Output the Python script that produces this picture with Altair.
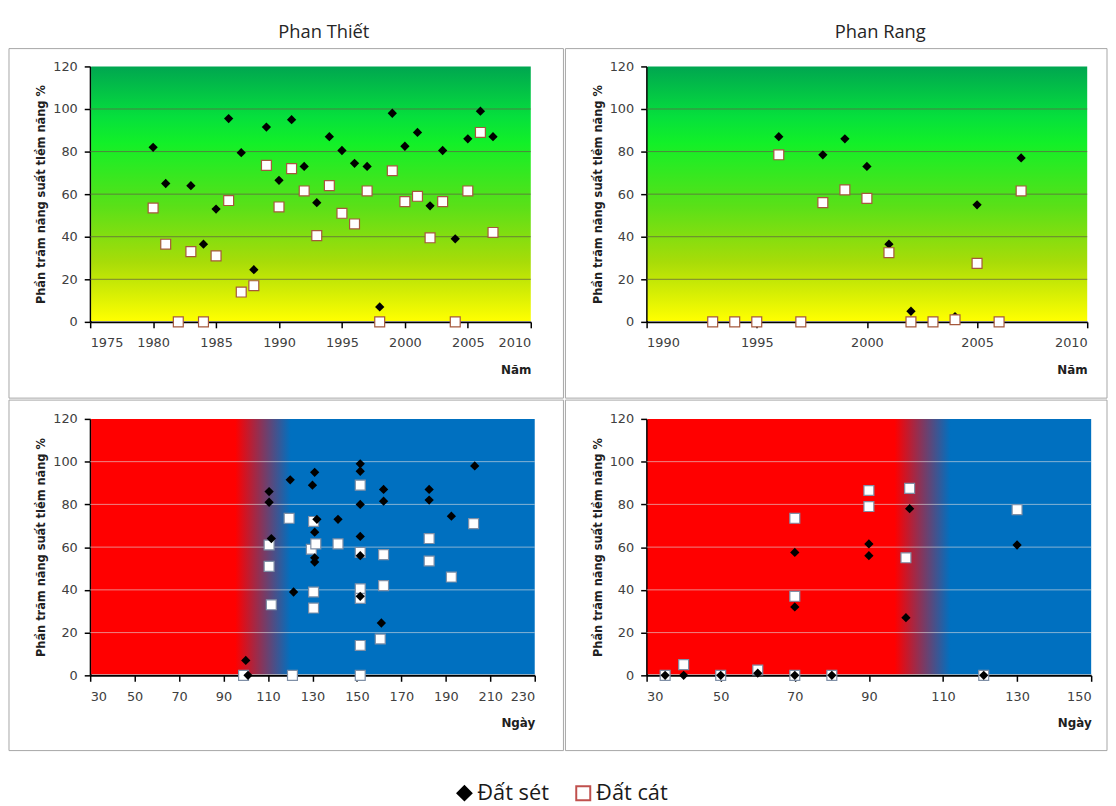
import altair as alt
import pandas as pd

# ---------------- data ----------------
soil_types = ["Đất sét", "Đất cát"]
panel_titles = ["Phan Thiết", "Phan Rang"]
y_title = "Phần trăm năng suất tiềm năng %"
x_titles = ["Năm", "Ngày"]
y_ticks = [0, 20, 40, 60, 80, 100, 120]
grid_values = [20, 40, 60, 80, 100]

# Phan Thiết by year
pt_set_year = [1980, 1981, 1983, 1984, 1985, 1986, 1987, 1988, 1989, 1990, 1991, 1992, 1993, 1994,
               1995, 1996, 1997, 1998, 1999, 2000, 2001, 2002, 2003, 2004, 2005, 2006, 2007]
pt_set_val = [82, 65, 64, 36.5, 53, 95.5, 79.5, 24.5, 91.5, 66.5, 95, 73, 56, 87,
              80.5, 74.5, 73, 7, 98, 82.5, 89, 54.5, 80.5, 39, 86, 99, 87]
pt_cat_year = [1980, 1981, 1982, 1983, 1984, 1985, 1986, 1987, 1988, 1989, 1990, 1991, 1992, 1993,
               1994, 1995, 1996, 1997, 1998, 1999, 2000, 2001, 2002, 2003, 2004, 2005, 2006, 2007]
pt_cat_val = [53.5, 36.5, 0, 33, 0, 31, 57, 14, 17, 73.5, 54, 72, 61.5, 40.5,
              64, 51, 46, 61.5, 0, 71, 56.5, 59, 39.5, 56.5, 0, 61.5, 89, 42]

# Phan Rang by year
pr_set_year = [1996, 1998, 1999, 2000, 2001, 2002, 2004, 2005, 2007]
pr_set_val = [87, 78.5, 86, 73, 36.5, 5, 2.5, 55, 77]
pr_cat_year = [1993, 1994, 1995, 1996, 1997, 1998, 1999, 2000, 2001, 2002, 2003, 2004, 2005, 2006, 2007]
pr_cat_val = [0, 0, 0, 78.5, 0, 56, 62, 58, 32.5, 0, 0, 1, 27.5, 0, 61.5]

# Phan Thiết by days
ptd_set_day = [100, 101, 110.5, 110.5, 111.5, 120, 121.5, 130, 131, 132, 131, 131, 131, 141.5,
               151.5, 151.5, 151.5, 151.5, 151.5, 151.5, 161, 162, 162, 182.5, 182.5, 192.5, 203]
ptd_set_val = [7, 0, 86, 81, 64, 91.5, 39, 89, 95, 73, 67, 55, 53, 73,
               99, 95.5, 80, 65, 56, 37, 24.5, 87, 81.5, 87, 82, 74.5, 98]
ptd_cat_day = [99, 110.5, 110.5, 111.5, 119.5, 121, 130.5, 129.5, 131.5, 130.5, 130.5, 141.5,
               151.5, 151.5, 151.5, 151.5, 151.5, 151.5, 162, 162, 160.5, 182.5, 182.5, 192.5, 202.5]
ptd_cat_val = [0, 61, 51, 33, 73.5, 0, 72, 59, 61.5, 39, 31.5, 61.5,
               89, 57.5, 40.5, 36, 14, 0, 56.5, 42, 17, 64, 53.5, 46, 71]

# Phan Rang by days
prd_set_day = [35, 40, 50, 60, 70, 70, 70, 80, 90, 90, 101, 100, 121, 130]
prd_set_val = [0, 0, 0, 1, 57.5, 32, 0, 0, 61.5, 56, 78, 27, 0, 61]
prd_cat_day = [35, 40, 50, 60, 70, 70, 70, 80, 90, 90, 101, 100, 121, 130]
prd_cat_val = [0, 5, 0, 2.5, 73.5, 37, 0, 0, 86.5, 79, 87.5, 55, 0, 77.5]

# ---------------- styling ----------------
LABEL_FONT = "DejaVu Sans"
one = pd.DataFrame({"k": [0]})

green_grad = alt.LinearGradient(
    gradient="linear", x1=0, x2=0, y1=0, y2=1,
    stops=[alt.GradientStop(color="#00a650", offset=0),
           alt.GradientStop(color="#06e03c", offset=0.2),
           alt.GradientStop(color="#12f028", offset=0.3),
           alt.GradientStop(color="#5ae018", offset=0.55),
           alt.GradientStop(color="#a8dc08", offset=0.77),
           alt.GradientStop(color="#ffff00", offset=1)])


def rb_grad(a, b):
    return alt.LinearGradient(
        gradient="linear", x1=0, x2=1, y1=0, y2=0,
        stops=[alt.GradientStop(color="#ff0000", offset=0),
               alt.GradientStop(color="#ff0000", offset=a),
               alt.GradientStop(color="#0070c0", offset=b),
               alt.GradientStop(color="#0070c0", offset=1)])


def panel(set_x, set_y, cat_x, cat_y, xdom, xvals, xtitle, title, W, H,
          bg, grid_color, grid_op, sq_stroke, squares_on_top, frame_right, frame_top):
    xs = alt.Scale(domain=xdom, nice=False, zero=False)
    ys = alt.Scale(domain=[0, 120], nice=False)
    xaxis = alt.Axis(values=xvals, format="d", title=xtitle, grid=False,
                     domainColor="black", domainWidth=2, tickColor="black", tickWidth=1.5,
                     tickSize=6, labelFont=LABEL_FONT, labelFontSize=13, labelColor="#404040",
                     labelPadding=9, titleFont=LABEL_FONT, titleFontSize=12, titleFontWeight="bold",
                     titleColor="#202020", titleAnchor="end", titleAlign="right", titlePadding=15)
    yaxis = alt.Axis(values=y_ticks, title=y_title, grid=False,
                     domainColor="black", domainWidth=2, tickColor="black", tickWidth=1.5,
                     tickSize=6, labelFont=LABEL_FONT, labelFontSize=13, labelColor="#404040",
                     labelPadding=7, titleFont=LABEL_FONT, titleFontSize=11.5, titleFontWeight="bold",
                     titleColor="#202020", titlePadding=6)

    bgl = alt.Chart(one).mark_rect(fill=bg).encode(
        x=alt.value(1), x2=alt.value(W), y=alt.value(0), y2=alt.value(H - 1))
    grid = alt.Chart(pd.DataFrame({"v": grid_values})).mark_rule(
        color=grid_color, opacity=grid_op, strokeWidth=1).encode(
        y=alt.Y("v:Q", scale=ys, axis=yaxis))
    dset = pd.DataFrame({"x": set_x, "y": set_y})
    dcat = pd.DataFrame({"x": cat_x, "y": cat_y})
    dia = alt.Chart(dset).mark_point(shape="diamond", filled=True, color="black",
                                     size=88, opacity=1).encode(
        x=alt.X("x:Q", scale=xs, axis=xaxis),
        y=alt.Y("y:Q", scale=ys, axis=yaxis))
    sq = alt.Chart(dcat).mark_square(fill="white", stroke=sq_stroke, strokeWidth=1.2,
                                     size=100, opacity=1).encode(
        x=alt.X("x:Q", scale=xs, axis=xaxis), y=alt.Y("y:Q", scale=ys, axis=yaxis))
    frame = alt.Chart(one).mark_rect(fillOpacity=0, stroke="#a6a6a6", strokeWidth=1).encode(
        x=alt.value(-82), x2=alt.value(frame_right), y=alt.value(frame_top), y2=alt.value(335))
    layers = [bgl, grid]
    layers += [dia, sq] if squares_on_top else [sq, dia]
    layers.append(frame)
    if title is not None:
        layers.append(alt.Chart(pd.DataFrame({"t": [title]})).mark_text(
            font="Open Sans", fontSize=18.5, color="#262626").encode(
            text="t:N", x=alt.value(236), y=alt.value(-35)))
    return alt.layer(*layers).properties(width=W, height=H)


tl = panel(pt_set_year, pt_set_val, pt_cat_year, pt_cat_val, [1975, 2010],
           list(range(1975, 2011, 5)), x_titles[0], panel_titles[0], 445, 258,
           green_grad, "#5f5f45", 0.75, "#a5583c", True, 478, -18)
tr = panel(pr_set_year, pr_set_val, pr_cat_year, pr_cat_val, [1990, 2010],
           list(range(1990, 2011, 5)), x_titles[0], panel_titles[1], 445, 258,
           green_grad, "#5f5f45", 0.75, "#a5583c", True, 465, -18)
bl = panel(ptd_set_day, ptd_set_val, ptd_cat_day, ptd_cat_val, [30, 230],
           list(range(30, 231, 20)), x_titles[1], None, 449, 259,
           rb_grad(0.325, 0.45), "#e0e0e0", 0.6, "#7f8fa6", False, 478, -19)
br = panel(prd_set_day, prd_set_val, prd_cat_day, prd_cat_val, [30, 150],
           list(range(30, 151, 20)), x_titles[1], None, 449, 259,
           rb_grad(0.557, 0.683), "#e0e0e0", 0.6, "#7f8fa6", False, 465, -19)

# manual legend row (its origin lines up with the left plot area above)
ldf = pd.DataFrame({"soil": soil_types})
lx = alt.X("soil:N", scale=alt.Scale(domain=soil_types, range=[378, 498], padding=0), axis=None)
leg_pts = alt.Chart(ldf).mark_point(filled=False, size=200, strokeWidth=2, opacity=1).encode(
    x=lx, y=alt.value(41),
    shape=alt.Shape("soil:N", scale=alt.Scale(domain=soil_types, range=["diamond", "square"]), legend=None),
    fill=alt.Fill("soil:N", scale=alt.Scale(domain=soil_types, range=["black", "white"]), legend=None),
    stroke=alt.Stroke("soil:N", scale=alt.Scale(domain=soil_types, range=["black", "#c0504d"]), legend=None))
leg_txt = alt.Chart(ldf).mark_text(align="left", dx=13, font="Open Sans", fontSize=22,
                                   color="#1a1a1a").encode(x=lx, y=alt.value(41), text="soil:N")
legend = alt.layer(leg_pts, leg_txt).properties(width=700, height=54)

chart = alt.vconcat(
    alt.hconcat(tl, tr, spacing=0),
    alt.hconcat(bl, br, spacing=0),
    legend,
    spacing=0,
).properties(
    padding={"left": 0, "top": 10, "right": 0, "bottom": 0}
).configure_view(stroke="transparent")

chart.save("out.html", embed_options={"renderer": "svg", "actions": False})
